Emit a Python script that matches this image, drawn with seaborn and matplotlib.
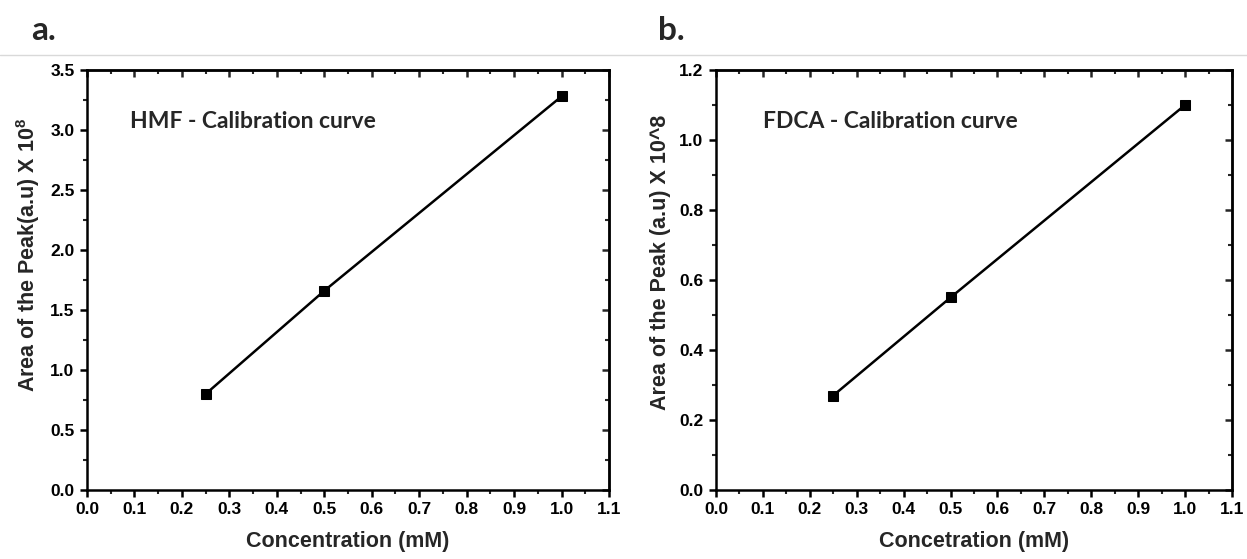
import matplotlib
matplotlib.use("Agg")
import matplotlib.pyplot as plt
import seaborn as sns
import pandas as pd
from matplotlib.lines import Line2D
from matplotlib.ticker import MultipleLocator

# ---- data ----
conc = [0.25, 0.5, 1.0]
hmf_area = [0.80, 1.66, 3.28]
fdca_area = [0.27, 0.55, 1.10]
x_ticks = [0.0, 0.1, 0.2, 0.3, 0.4, 0.5, 0.6, 0.7, 0.8, 0.9, 1.0, 1.1]
hmf_yticks = [0.0, 0.5, 1.0, 1.5, 2.0, 2.5, 3.0, 3.5]
fdca_yticks = [0.0, 0.2, 0.4, 0.6, 0.8, 1.0, 1.2]
panel_labels = ["a.", "b."]
titles = ["HMF - Calibration curve", "FDCA - Calibration curve"]
xlabels = ["Concentration (mM)", "Concetration (mM)"]
ylabels = [r"Area of the Peak(a.u) X 10$^{\mathbf{8}}$", "Area of the Peak (a.u) X 10^8"]

sns.set_theme(style="ticks")
plt.rcParams["font.family"] = ["Liberation Sans", "DejaVu Sans"]
plt.rcParams["font.weight"] = "bold"
plt.rcParams["mathtext.fontset"] = "custom"
plt.rcParams["mathtext.rm"] = "Liberation Sans:bold"
plt.rcParams["mathtext.bf"] = "Liberation Sans:bold"

W, H = 1247, 559
fig = plt.figure(figsize=(W / 100, H / 100), dpi=100)
fig.patch.set_facecolor("white")

ax_rects = [
    [87 / W, (H - 490) / H, 522 / W, 420 / H],
    [716 / W, (H - 490) / H, 516 / W, 420 / H],
]
dfs = [pd.DataFrame({"x": conc, "y": hmf_area}), pd.DataFrame({"x": conc, "y": fdca_area})]
yticks_list = [hmf_yticks, fdca_yticks]
yminor = [0.25, 0.1]
title_pos = [(130, 122), (763, 122)]
label_pos = [(31, 40), (658, 40)]
ylabel_pos = [(28, 255), (660, 262)]

for i in range(2):
    ax = fig.add_axes(ax_rects[i])
    sns.lineplot(data=dfs[i], x="x", y="y", ax=ax, color="black", marker="s",
                 markersize=7, linewidth=1.8, markeredgecolor="black")
    ax.set_xlim(x_ticks[0], x_ticks[-1])
    ax.set_ylim(yticks_list[i][0], yticks_list[i][-1])
    ax.set_xticks(x_ticks)
    ax.set_yticks(yticks_list[i])
    ax.set_xticklabels([f"{v:.1f}" for v in x_ticks])
    ax.set_yticklabels([f"{v:.1f}" for v in yticks_list[i]])
    ax.xaxis.set_minor_locator(MultipleLocator(0.05))
    ax.yaxis.set_minor_locator(MultipleLocator(yminor[i]))
    for s in ax.spines.values():
        s.set_visible(True)
        s.set_linewidth(1.8)
        s.set_color("black")
    ax.tick_params(axis="both", which="major", direction="out", length=5, width=1.8,
                   labelsize=12.5, pad=4, colors="black")
    ax.tick_params(axis="both", which="minor", direction="out", length=3, width=1.5)
    # mirrored inward ticks on top and right
    secx = ax.secondary_xaxis("top")
    secx.set_xticks(x_ticks)
    secx.xaxis.set_minor_locator(MultipleLocator(0.05))
    secx.tick_params(which="major", direction="in", length=5, width=1.8, labeltop=False)
    secx.tick_params(which="minor", direction="in", length=3, width=1.5)
    secx.spines["top"].set_linewidth(1.8)
    secy = ax.secondary_yaxis("right")
    secy.set_yticks(yticks_list[i])
    secy.yaxis.set_minor_locator(MultipleLocator(yminor[i]))
    secy.tick_params(which="major", direction="in", length=5, width=1.8, labelright=False)
    secy.tick_params(which="minor", direction="in", length=3, width=1.5)
    secy.spines["right"].set_linewidth(1.8)
    for lab in ax.get_xticklabels() + ax.get_yticklabels():
        lab.set_fontweight("bold")
    ax.set_xlabel(xlabels[i], fontsize=15.5, fontweight="bold", labelpad=10)
    ax.set_ylabel("")
    fig.text(ylabel_pos[i][0] / W, 1 - ylabel_pos[i][1] / H, ylabels[i], rotation=90,
             fontsize=15.5, fontweight="bold", ha="center", va="center")
    fig.text(title_pos[i][0] / W, 1 - title_pos[i][1] / H, titles[i], fontsize=16.5,
             fontweight="bold", family=["Lato", "DejaVu Sans"], ha="left", va="center")
    fig.text(label_pos[i][0] / W, 1 - label_pos[i][1] / H, panel_labels[i], fontsize=24,
             fontweight="bold", family=["Lato", "DejaVu Sans"], ha="left", va="baseline")

fig.add_artist(Line2D([0, 1], [1 - 55 / H, 1 - 55 / H], color="#d9d9d9", linewidth=1))

fig.savefig("out.png", dpi=100, facecolor="white")
